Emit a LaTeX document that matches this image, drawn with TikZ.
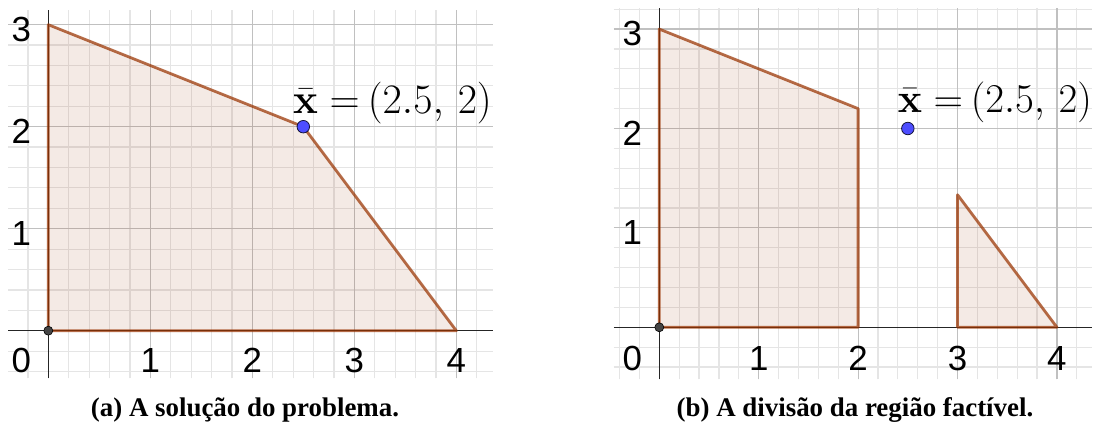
\RequirePackage{fix-cm}
\documentclass[tikz,border=0pt]{standalone}
\usepackage[no-math]{fontspec}
\setmainfont{Liberation Serif}
\newfontfamily\labfont{Liberation Sans}
\definecolor{poly}{RGB}{153,51,0}
\definecolor{majgrid}{RGB}{192,192,192}
\definecolor{mingrid}{RGB}{229,229,229}
\definecolor{axiscol}{RGB}{37,37,37}
\definecolor{ptblue}{RGB}{77,77,255}
\tikzset{
  minorline/.style={draw=mingrid, line width=1.2bp},
  majorline/.style={draw=majgrid, line width=1.2bp},
  axisline/.style={draw=axiscol, line width=1.2bp},
  regionfill/.style={fill=poly, fill opacity=0.1},
  regionedge/.style={draw=poly, draw opacity=0.72, line width=2.8bp, line join=round},
  ticklab/.style={inner sep=0pt, font=\labfont\fontsize{35}{40}\selectfont},
  origindot/.style={circle, inner sep=0pt, minimum size=9bp, fill={rgb,255:red,68;green,68;blue,68}, draw=black, line width=0.6bp},
  bluedot/.style={circle, inner sep=0pt, minimum size=12.5bp, fill=ptblue, draw={rgb,255:red,20;green,20;blue,60}, line width=0.8bp},
  caption/.style={inner sep=0pt, anchor=base, font=\bfseries\fontsize{27}{32}\selectfont},
  pointlab/.style={inner sep=0pt, anchor=base west}
}
\begin{document}
\begin{tikzpicture}[x=1bp,y=1bp]
\useasboundingbox (0,0) rectangle (1094,423);
\fill[white] (0,0) rectangle (1094,423);

% ---------- left plot ----------
\begin{scope}[shift={(48.3bp,92.3bp)}, x=102bp, y=102bp]
  \foreach \i in {-1,...,21} \draw[minorline] (\i/5,-0.467) -- (\i/5,3.144);
  \foreach \j in {-2,...,15} \draw[minorline] (-0.392,\j/5) -- (4.36,\j/5);
  \foreach \i in {1,...,4} \draw[majorline] (\i,-0.467) -- (\i,3.144);
  \foreach \j in {1,...,3} \draw[majorline] (-0.392,\j) -- (4.36,\j);
  \coordinate (LA) at (0,0);
  \coordinate (LB) at (4,0);
  \coordinate (LC) at (2.5,2);
  \coordinate (LD) at (0,3);
  \fill[regionfill] (LA) -- (LB) -- (LC) -- (LD) -- cycle;
  \draw[axisline] (-0.392,0) -- (4.36,0);
  \draw[axisline] (0,-0.467) -- (0,3.144);
  \draw[regionedge] (LA) -- (LB) -- (LC) -- (LD) -- cycle;
  \node[origindot] (LO) at (LA) {};
  \node[bluedot] (LX) at (LC) {};
  \node[ticklab, xshift=-27bp, yshift=-29.5bp] (L0) at (0,0) {0};
  \foreach \k in {1,...,4} \node[ticklab, yshift=-29.5bp] (Lx\k) at (\k,0) {\k};
  \foreach \k in {1,...,3} \node[ticklab, xshift=-27bp, yshift=-4.5bp] (Ly\k) at (0,\k) {\k};
\end{scope}
\node[pointlab, font=\fontsize{42}{50}\selectfont] (LXlab) at (293,309.8) {$\bar{\mathbf{x}} =\mkern-1.5mu (2.5,\mkern3mu 2)$};
\node[caption] (capa) at (245,6.5) {(a) A solução do problema.};

% ---------- right plot ----------
\begin{scope}[shift={(659.3bp,95.7bp)}, x=99.4bp, y=99.4bp]
  \foreach \i in {-2,...,21} \draw[minorline] (\i/5,-0.524) -- (\i/5,3.21);
  \foreach \j in {-2,...,16} \draw[minorline] (-0.456,\j/5) -- (4.35,\j/5);
  \foreach \i in {1,...,4} \draw[majorline] (\i,-0.524) -- (\i,3.21);
  \foreach \j in {1,...,3} \draw[majorline] (-0.456,\j) -- (4.35,\j);
  \coordinate (RA) at (0,0);
  \coordinate (RB) at (2,0);
  \coordinate (RC) at (2,2.2);
  \coordinate (RD) at (0,3);
  \coordinate (RE) at (3,0);
  \coordinate (RF) at (4,0);
  \coordinate (RG) at (3,4/3);
  \coordinate (RP) at (2.5,2);
  \fill[regionfill] (RA) -- (RB) -- (RC) -- (RD) -- cycle;
  \fill[regionfill] (RE) -- (RF) -- (RG) -- cycle;
  \draw[axisline] (-0.456,0) -- (4.35,0);
  \draw[axisline] (0,-0.524) -- (0,3.21);
  \draw[regionedge] (RA) -- (RB) -- (RC) -- (RD) -- cycle;
  \draw[regionedge] (RE) -- (RF) -- (RG) -- cycle;
  \node[origindot] (RO) at (RA) {};
  \node[bluedot] (RX) at (RP) {};
  \node[ticklab, xshift=-27bp, yshift=-31.5bp] (R0) at (0,0) {0};
  \foreach \k in {1,...,4} \node[ticklab, yshift=-31.5bp] (Rx\k) at (\k,0) {\k};
  \foreach \k in {1,...,3} \node[ticklab, xshift=-27bp, yshift=-4.5bp] (Ry\k) at (0,\k) {\k};
\end{scope}
\node[pointlab, font=\fontsize{41}{49}\selectfont] (RXlab) at (897.7,310.8) {$\bar{\mathbf{x}} =\mkern-1.5mu (2.5,\mkern3mu 2)$};
\node[caption] (capb) at (855,6.5) {(b) A divisão da região factível.};
\end{tikzpicture}
\end{document}
